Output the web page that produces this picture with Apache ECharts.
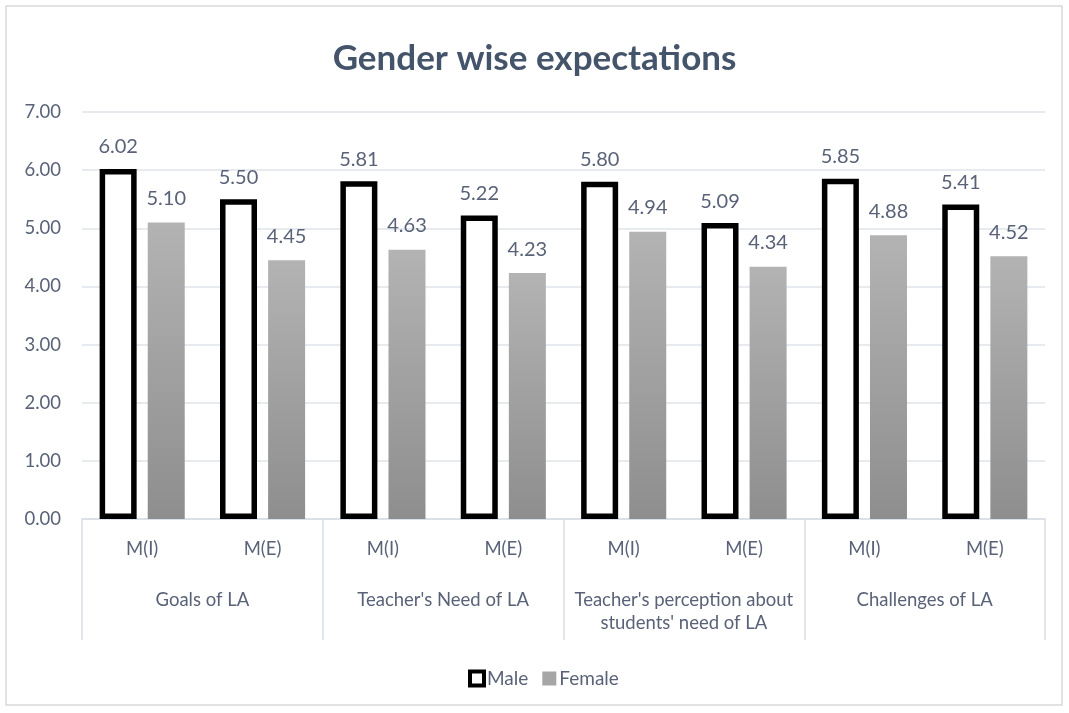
<!DOCTYPE html>
<html><head><meta charset="utf-8">
<script src="https://cdn.jsdelivr.net/npm/echarts@6/dist/echarts.min.js"></script>
<style>html,body{margin:0;padding:0;background:#fff}#c{width:1069px;height:713px}</style>
</head><body><div id="c"></div>
<script>
const subCategories = ["M(I)","M(E)","M(I)","M(E)","M(I)","M(E)","M(I)","M(E)"];
const groupCategories = ["Goals of LA","Teacher's Need of LA","Teacher's perception about\nstudents' need of LA","Challenges of LA"];
const maleValues = [6.02,5.50,5.81,5.22,5.80,5.09,5.85,5.41];
const femaleValues = [5.10,4.45,4.63,4.23,4.94,4.34,4.88,4.52];
const yTicks = {min:0,max:7,interval:1};

const FONT = 'Lato, "Open Sans", sans-serif';
const TXT = '#596277';
const chart = echarts.init(document.getElementById('c'), null, {renderer:'canvas'});
chart.setOption({
  backgroundColor:'#fff',
  animation:false,
  graphic:[{type:'rect',shape:{x:6,y:6,width:1056,height:699},style:{fill:'none',stroke:'#d9d9d9',lineWidth:1.5},silent:true,z:-1}],
  title:{text:'Gender wise expectations',left:'center',top:36,textStyle:{fontFamily:FONT,fontSize:35,fontWeight:'bold',color:'#44546a'}},
  legend:{bottom:20,left:463,itemWidth:14,itemHeight:14,itemGap:14,
    textStyle:{fontFamily:FONT,fontSize:19,color:TXT,padding:[0,0,0,-2]},
    data:[{name:'Male',icon:'rect',itemStyle:{color:'#fff',borderColor:'#000',borderWidth:4}},{name:'Female',icon:'rect',itemStyle:{color:'#a6a6a6',borderWidth:0}}]},
  grid:{left:82,right:24,top:112,bottom:194},
  xAxis:[
    {type:'category',data:subCategories,position:'bottom',
     axisLine:{show:true,lineStyle:{color:'#d9dde5',width:1.5}},axisTick:{show:false},
     axisLabel:{margin:21,fontFamily:FONT,fontSize:18.5,color:TXT}},
    {type:'category',data:groupCategories,position:'bottom',offset:0,
     axisLine:{show:false},axisTick:{show:true,length:121,lineStyle:{color:'#d9dde5',width:1.5}},
     axisLabel:{margin:70,fontFamily:FONT,fontSize:18.5,lineHeight:23,color:TXT,interval:0}}
  ],
  yAxis:{type:'value',min:yTicks.min,max:yTicks.max,interval:yTicks.interval,
    axisLine:{show:false},axisTick:{show:false},
    splitLine:{lineStyle:{color:'#dfe3ea',width:1.5}},
    axisLabel:{margin:21,fontFamily:FONT,fontSize:18.5,color:TXT,formatter:v=>v.toFixed(2)}},
  series:[
    {name:'Male',type:'bar',xAxisIndex:0,data:maleValues,barWidth:37,barGap:'30%',
     itemStyle:{color:'#fff',borderColor:'#000',borderWidth:5.5},
     label:{show:true,position:'top',distance:12,fontFamily:FONT,fontSize:20,color:TXT,formatter:p=>p.value.toFixed(2)}},
    {name:'Female',type:'bar',xAxisIndex:0,data:femaleValues,barWidth:37,
     itemStyle:{color:new echarts.graphic.LinearGradient(0,0,0,1,[{offset:0,color:'#b3b3b3'},{offset:1,color:'#8e8e8e'}])},
     label:{show:true,position:'top',distance:14,fontFamily:FONT,fontSize:20,color:TXT,formatter:p=>p.value.toFixed(2)}}
  ]
});
</script></body></html>
